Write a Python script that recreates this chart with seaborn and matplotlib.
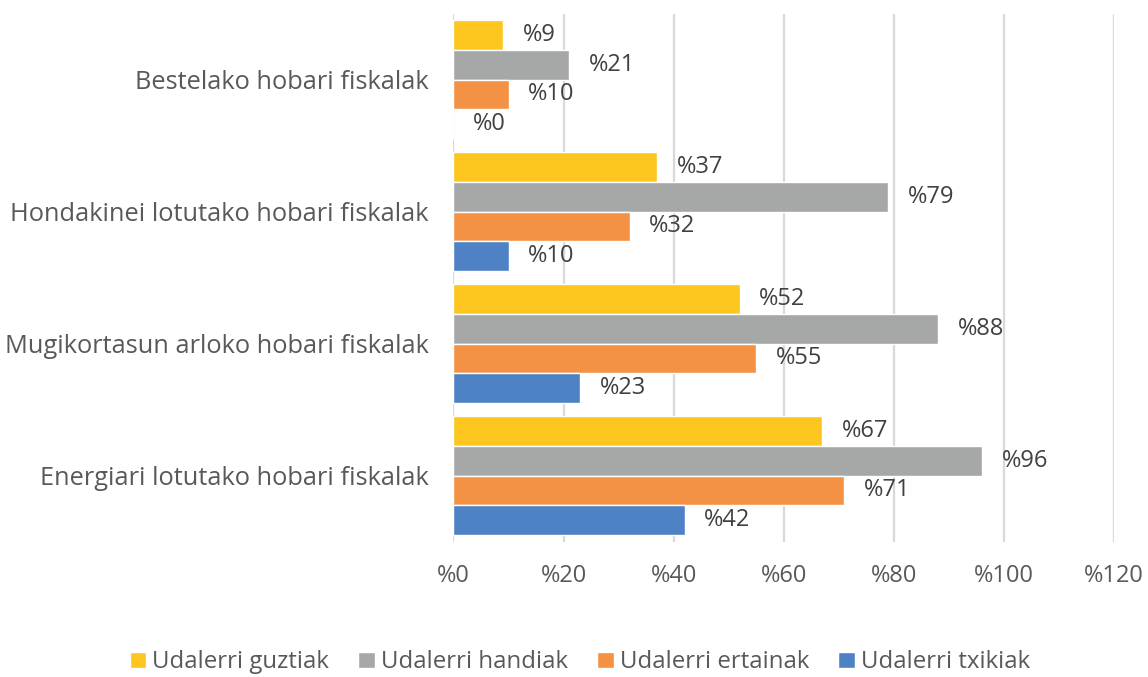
import pandas as pd
import matplotlib
matplotlib.use("Agg")
import matplotlib.pyplot as plt
import seaborn as sns

# --- datuak ---
kategoriak = [
    "Bestelako hobari fiskalak",
    "Hondakinei lotutako hobari fiskalak",
    "Mugikortasun arloko hobari fiskalak",
    "Energiari lotutako hobari fiskalak",
]
serieak = ["Udalerri guztiak", "Udalerri handiak", "Udalerri ertainak", "Udalerri txikiak"]
guztiak = [9, 37, 52, 67]
handiak = [21, 79, 88, 96]
ertainak = [10, 32, 55, 71]
txikiak = [0, 10, 23, 42]
koloreak = ["#FCC61F", "#A6A8A7", "#F39245", "#4F82C4"]
x_ticks = [0, 20, 40, 60, 80, 100, 120]

df = pd.DataFrame({
    "kategoria": kategoriak * 4,
    "seriea": [s for s in serieak for _ in kategoriak],
    "balioa": guztiak + handiak + ertainak + txikiak,
})

sns.set_style("white")
plt.rcParams["font.family"] = ["Open Sans", "DejaVu Sans"]

fig, ax = plt.subplots(figsize=(11.48, 6.77), dpi=100)
fig.subplots_adjust(left=0.395, right=0.9705, top=0.98, bottom=0.2)

sns.barplot(data=df, y="kategoria", x="balioa", hue="seriea", order=kategoriak,
            hue_order=serieak, palette=koloreak, orient="h", width=0.9,
            saturation=1, ax=ax, zorder=2)

for cont in ax.containers:
    vals = cont.datavalues
    ax.bar_label(cont, labels=[f"%{v:.0f}" for v in vals], padding=14,
                 fontsize=17, color="#404040")

ax.set_xlim(0, 120)
ax.set_xticks(x_ticks)
ax.set_xticklabels([f"%{t}" for t in x_ticks])
ax.xaxis.grid(True, color="#D9D9D9", linewidth=1.6, zorder=0)
ax.set_axisbelow(True)
for s in ax.spines.values():
    s.set_visible(False)
ax.tick_params(axis="x", length=0, pad=16, labelsize=17, labelcolor="#595959")
ax.tick_params(axis="y", length=0, pad=18, labelsize=18.3, labelcolor="#595959")
ax.set_xlabel("")
ax.set_ylabel("")

ax.legend_.remove()
handles, labels = ax.get_legend_handles_labels()
fig.legend(handles, labels, loc="lower center", bbox_to_anchor=(0.505, -0.028), ncol=4,
           frameon=False, fontsize=17.3, handlelength=0.7, handleheight=0.7,
           handletextpad=0.25, columnspacing=1.2, labelcolor="#595959")

plt.savefig("out.png", dpi=100)
